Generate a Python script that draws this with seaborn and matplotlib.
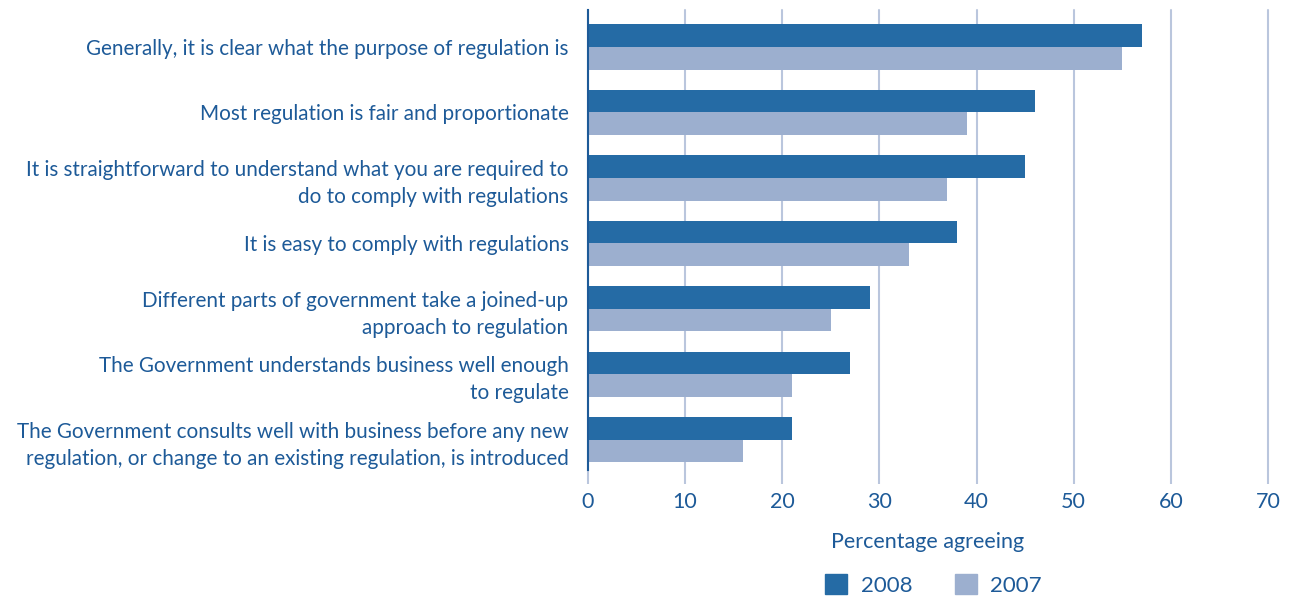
import matplotlib
matplotlib.use("Agg")
import matplotlib.pyplot as plt
import matplotlib.patches as mpatches
import seaborn as sns
import pandas as pd

statements = [
    "Generally, it is clear what the purpose of regulation is",
    "Most regulation is fair and proportionate",
    "It is straightforward to understand what you are required to\ndo to comply with regulations",
    "It is easy to comply with regulations",
    "Different parts of government take a joined-up\napproach to regulation",
    "The Government understands business well enough\nto regulate",
    "The Government consults well with business before any new\nregulation, or change to an existing regulation, is introduced",
]
agree_2008 = [57, 46, 45, 38, 29, 27, 21]
agree_2007 = [55, 39, 37, 33, 25, 21, 16]
years = ["2008", "2007"]
x_ticks = [0, 10, 20, 30, 40, 50, 60, 70]

TEXT = "#1D5A98"
DARK = "#256BA5"
LIGHT = "#9CAFCF"
GRID = "#BAC6DD"

df = pd.DataFrame({
    "statement": statements * 2,
    "year": ["2008"] * len(statements) + ["2007"] * len(statements),
    "pct": agree_2008 + agree_2007,
})

sns.set_theme(style="white")
plt.rcParams["font.family"] = ["Lato", "DejaVu Sans"]

fig = plt.figure(figsize=(12.92, 5.99), dpi=100)
ax = fig.add_axes([0.4551, 0.2154, 0.5263, 0.7679])

sns.barplot(data=df, y="statement", x="pct", hue="year", hue_order=years,
            palette=[DARK, LIGHT], order=statements, width=0.69,
            saturation=1, orient="h", ax=ax, legend=False, linewidth=0)

ax.set_xlim(0, 70)
ax.set_ylim(6.46, -0.565)
ax.set_xticks(x_ticks)
ax.set_xticklabels([str(t) for t in x_ticks])
ax.grid(axis="x", color=GRID, linewidth=1.5)
ax.grid(axis="y", visible=False)
ax.set_axisbelow(True)
for gl in ax.get_xgridlines():
    gl.set_clip_on(False)

for side in ["top", "right", "bottom"]:
    ax.spines[side].set_visible(False)
ax.spines["left"].set_color(TEXT)
ax.spines["left"].set_linewidth(1.5)

ax.tick_params(axis="x", length=10, width=1.5, color=GRID, labelsize=15.5,
               labelcolor=TEXT, pad=6, bottom=True)
ax.xaxis.get_major_ticks()[0].tick1line.set_color(TEXT)
ax.tick_params(axis="y", length=0, labelsize=14.9, labelcolor=TEXT, pad=14)
for lab in ax.get_yticklabels():
    lab.set_linespacing(1.42)

ax.set_ylabel("")
ax.set_xlabel("Percentage agreeing", fontsize=15.5, color=TEXT, labelpad=14)

handles = [mpatches.Patch(color=DARK, label="2008"),
           mpatches.Patch(color=LIGHT, label="2007")]
fig.legend(handles=handles, loc="center", bbox_to_anchor=(0.7225, 0.023),
           ncol=2, frameon=False, fontsize=16, labelcolor=TEXT,
           handlelength=1.0, handleheight=1.0, handletextpad=0.6,
           columnspacing=1.9)

fig.savefig("out.png", dpi=100)
